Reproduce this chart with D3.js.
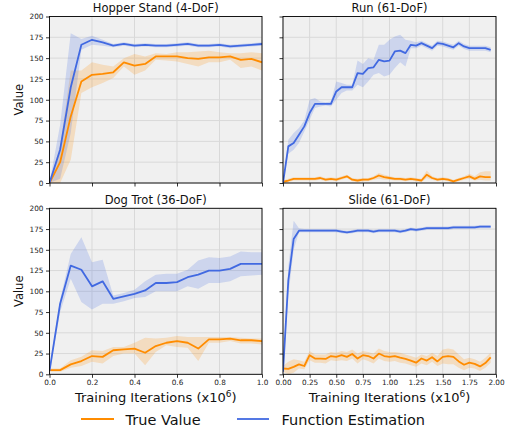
<!DOCTYPE html>
<html><head><meta charset="utf-8">
<script src="https://cdn.jsdelivr.net/npm/d3@7"></script>
<style>body{margin:0;background:#fff}svg{display:block;font-family:"DejaVu Sans",sans-serif}</style>
</head><body>
<script>
// ---- data ----
const shortX = [0,0.05,0.1,0.15,0.2,0.25,0.3,0.35,0.4,0.45,0.5,0.55,0.6,0.65,0.7,0.75,0.8,0.85,0.9,0.95,1.0];
const longX = [0,0.05,0.1,0.15,0.2,0.25,0.3,0.35,0.4,0.45,0.5,0.55,0.6,0.65,0.7,0.75,0.8,0.85,0.9,0.95,
               1.0,1.05,1.1,1.15,1.2,1.25,1.3,1.35,1.4,1.45,1.5,1.55,1.6,1.65,1.7,1.75,1.8,1.85,1.9,1.95];

const hopperTrue   = [0,25,80,122,130,131,133,145,141,143,152,152,152,150,149,151,151,152,148,149,145];
const hopperTrueLo = [0,0,28,108,115,120,126,140,130,135,148,147,146,143,140,145,145,148,138,140,135];
const hopperTrueHi = [0,45,135,135,145,142,140,150,155,152,156,155,157,157,158,159,157,156,156,157,156];
const hopperEst    = [0,40,115,166,172,169,165,167,165,166,165,165,166,167,165,165,166,164,165,166,167];
const hopperEstLo  = [0,5,60,160,166,165,163,165,163,164,163,163,164,165,163,163,164,162,163,164,165];
const hopperEstHi  = [0,70,180,173,177,172,167,169,167,168,167,167,168,169,167,167,168,166,167,168,169];

const runTrue   = [1.5,3,5,5,5,5,5,6,4,5,4,6,8,4,3,4,4,6,9,7,6,5,5,4,5,4,3,10,6,4,5,4,2,4,6,8,5,8,7,7];
const runTrueLo = [0,1,3,3,3,3,3,4,2,3,2,4,6,2,1,2,2,4,5,4,4,3,3,2,3,2,1,6,4,2,3,2,0,2,4,5,3,4,3,3];
const runTrueHi = [3,5,7,7,7,7,7,8,6,7,6,8,10,6,5,6,6,8,12,10,8,7,7,6,7,6,5,15,8,6,7,6,4,6,8,11,8,13,14,14];
const runEst    = [0,44,48,58,68,84,95,95,95,95,110,115,115,115,132,131,138,139,148,146,147,158,159,156,166,165,168,165,162,168,167,165,163,168,164,162,162,162,162,160];
const runEstLo  = [0,35,40,48,62,76,90,92,93,92,100,108,111,111,118,115,122,130,132,128,130,138,145,140,162,162,165,162,159,165,164,162,160,165,161,159,159,159,159,157];
const runEstHi  = [0,52,60,66,75,100,102,98,97,98,122,120,118,118,147,143,150,148,166,166,172,176,178,172,171,169,171,168,165,171,170,168,166,171,167,165,165,165,165,163];

const dogTrue   = [5,5,12,16,22,21,29,30,31,26,34,38,40,38,31,42,42,43,41,41,40];
const dogTrueLo = [3,3,8,10,15,13,22,25,25,11,27,35,33,32,16,38,38,40,37,37,36];
const dogTrueHi = [7,7,17,21,29,28,33,33,38,44,43,44,46,45,45,45,45,45,44,43,43];
const dogEst    = [4,85,131,126,106,112,91,94,97,101,110,110,111,117,120,125,125,127,133,133,133];
const dogEstLo  = [0,75,115,87,78,85,85,88,92,93,100,100,100,106,103,110,110,112,118,119,120];
const dogEstHi  = [8,90,145,165,135,138,95,98,102,112,120,121,121,126,137,141,140,142,148,147,147];

const slideTrue   = [7,6.5,9,12,10,23,19,19,18.5,22,21,23,21,24.5,19,23,22,19,25,22,21,22,20,18.5,16.5,14,19,16.5,20.5,15.5,21,22,21,15.5,11.5,14,12.5,9.5,13.5,20.5];
const slideTrueLo = [3,0,2,7,6,17,14,14,13,17,16,17,16,19,13,18,16,13,19,16,15,16,14,13,11,9,13,11,15,10,13,12,12,8,5,8,7,4,8,14];
const slideTrueHi = [10,15,18,17,15,28,24,24,24,27,26,28,27,30,25,28,27,25,31,28,27,27,26,24,22,20,24,22,26,22,30,31,30,24,18,20,18,15,20,26];
const slideEst    = [3,113,163,173,173,173,173,173,173,173,173,172,171,172,173,173,173,172,173,173,173,173,172,173,175,174,175,176,176,176,176,176,177,177,177,177,177,178,178,178];
const slideEstLo  = [0,95,150,171,171,171,171,171,171,171,171,170,169,170,171,171,171,170,171,171,171,171,170,171,173,172,173,174,174,174,174,174,175,175,175,175,175,176,176,176];
const slideEstHi  = [6,130,185,176,175,175,175,175,175,175,175,174,173,174,175,175,175,174,175,175,175,175,174,175,177,176,177,178,178,178,178,178,179,179,179,179,179,180,180,180];

const yTicks = [0,25,50,75,100,125,150,175,200];
const shortTicks = [0,0.2,0.4,0.6,0.8,1.0];
const longTicks = [0,0.25,0.5,0.75,1.0,1.25,1.5,1.75,2.0];

const titles = ["Hopper Stand (4-DoF)","Run (61-DoF)","Dog Trot (36-DoF)","Slide (61-DoF)"];
const legendLabels = ["True Value","Function Estimation"];

const ORANGE = "#ff8c00", BLUE = "#4169e1";

// ---- drawing ----
const W = 507, H = 433;
const svg = d3.select("body").append("svg").attr("width",W).attr("height",H);

const panels = [
  {title:titles[0], x:shortX, xt:shortTicks, xmax:1, fmt:d3.format(".1f"), l:49.5, r:262, t:16.5, b:183, xl:false, yl:true,
   tr:hopperTrue, trLo:hopperTrueLo, trHi:hopperTrueHi, es:hopperEst, esLo:hopperEstLo, esHi:hopperEstHi},
  {title:titles[1], x:longX, xt:longTicks, xmax:2, fmt:d3.format(".2f"), l:283, r:496, t:16.5, b:183, xl:false, yl:false,
   tr:runTrue, trLo:runTrueLo, trHi:runTrueHi, es:runEst, esLo:runEstLo, esHi:runEstHi},
  {title:titles[2], x:shortX, xt:shortTicks, xmax:1, fmt:d3.format(".1f"), l:49.5, r:262, t:208.3, b:374.3, xl:true, yl:true,
   tr:dogTrue, trLo:dogTrueLo, trHi:dogTrueHi, es:dogEst, esLo:dogEstLo, esHi:dogEstHi},
  {title:titles[3], x:longX, xt:longTicks, xmax:2, fmt:d3.format(".2f"), l:283, r:496, t:208.3, b:374.3, xl:true, yl:false,
   tr:slideTrue, trLo:slideTrueLo, trHi:slideTrueHi, es:slideEst, esLo:slideEstLo, esHi:slideEstHi}
];

panels.forEach((p,i)=>{
  const x = d3.scaleLinear().domain([0,p.xmax]).range([p.l,p.r]);
  const y = d3.scaleLinear().domain([0,200]).range([p.b,p.t]);
  const g = svg.append("g");
  const cid = "clip"+i;
  svg.append("clipPath").attr("id",cid).append("rect")
    .attr("x",p.l).attr("y",p.t).attr("width",p.r-p.l).attr("height",p.b-p.t);
  g.append("rect").attr("x",p.l).attr("y",p.t).attr("width",p.r-p.l).attr("height",p.b-p.t).attr("fill","#f0f0f0");
  // grid
  g.selectAll(".gx").data(p.xt).join("line").attr("x1",d=>x(d)).attr("x2",d=>x(d)).attr("y1",p.t).attr("y2",p.b)
    .attr("stroke","#d9d9d9").attr("stroke-width",1);
  g.selectAll(".gy").data(yTicks).join("line").attr("y1",d=>y(d)).attr("y2",d=>y(d)).attr("x1",p.l).attr("x2",p.r)
    .attr("stroke","#d9d9d9").attr("stroke-width",1);
  const plot = g.append("g").attr("clip-path",`url(#${cid})`);
  const area = (lo,hi)=>d3.area().x((d,j)=>x(p.x[j])).y0((d,j)=>y(lo[j])).y1((d,j)=>y(hi[j]));
  const line = (v)=>d3.line().x((d,j)=>x(p.x[j])).y((d,j)=>y(v[j]));
  plot.append("path").attr("d",area(p.trLo,p.trHi)(p.tr)).attr("fill",ORANGE).attr("opacity",0.2);
  plot.append("path").attr("d",area(p.esLo,p.esHi)(p.es)).attr("fill",BLUE).attr("opacity",0.2);
  plot.append("path").attr("d",line(p.tr)(p.tr)).attr("fill","none").attr("stroke",ORANGE).attr("stroke-width",1.8).attr("stroke-linejoin","round");
  plot.append("path").attr("d",line(p.es)(p.es)).attr("fill","none").attr("stroke",BLUE).attr("stroke-width",1.8).attr("stroke-linejoin","round");
  // axes
  const xa = d3.axisBottom(x).tickValues(p.xt).tickSize(3.5).tickPadding(2.5).tickFormat(p.xl?p.fmt:()=> "");
  const ya = d3.axisLeft(y).tickValues(yTicks).tickSize(3.5).tickPadding(2.5).tickFormat(p.yl?d3.format("d"):()=> "");
  const gx = g.append("g").attr("transform",`translate(0,${p.b})`).call(xa);
  const gy = g.append("g").attr("transform",`translate(${p.l},0)`).call(ya);
  [gx,gy].forEach(a=>{
    a.select(".domain").remove();
    a.selectAll("text").attr("font-size",7.3).attr("fill","#222").attr("font-family","DejaVu Sans");
    a.selectAll("line").attr("stroke","#000").attr("stroke-width",0.8);
  });
  g.append("rect").attr("x",p.l).attr("y",p.t).attr("width",p.r-p.l).attr("height",p.b-p.t)
    .attr("fill","none").attr("stroke","#000").attr("stroke-width",0.9);
  g.append("text").attr("x",(p.l+p.r)/2).attr("y",p.t-4.5).attr("text-anchor","middle")
    .attr("font-size",11.5).attr("fill","#111").text(p.title);
  if(p.yl){
    g.append("text").attr("transform",`translate(23,${(p.t+p.b)/2}) rotate(-90)`).attr("text-anchor","middle")
      .attr("font-size",11.5).attr("fill","#111").text("Value");
  }
  if(p.xl){
    const t = g.append("text").attr("x",(p.l+p.r)/2).attr("y",401.5).attr("text-anchor","middle")
      .attr("font-size",13).attr("fill","#111");
    t.append("tspan").text("Training Iterations (x10");
    t.append("tspan").attr("font-size",9).attr("dy",-5).text("6");
    t.append("tspan").attr("dy",5).text(")");
  }
});

// legend
const leg = [{c:ORANGE,x1:81,x2:114,tx:125.5,label:legendLabels[0]},{c:BLUE,x1:237,x2:269,tx:281.5,label:legendLabels[1]}];
leg.forEach(l=>{
  svg.append("line").attr("x1",l.x1).attr("x2",l.x2).attr("y1",419).attr("y2",419).attr("stroke",l.c).attr("stroke-width",1.8);
  svg.append("text").attr("x",l.tx).attr("y",424.5).attr("font-size",14.5).attr("fill","#111").text(l.label);
});
</script>
</body></html>
